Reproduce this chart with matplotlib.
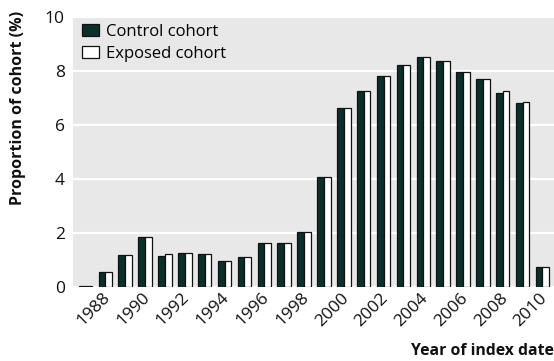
import matplotlib
matplotlib.use("Agg")
import matplotlib.pyplot as plt
import matplotlib.transforms as mtransforms
import numpy as np

years = list(range(1987, 2011))
control = [0.03, 0.55, 1.18, 1.86, 1.16, 1.26, 1.21, 0.96, 1.10, 1.64, 1.64, 2.05,
           4.08, 6.64, 7.27, 7.83, 8.22, 8.52, 8.37, 7.96, 7.70, 7.20, 6.80, 0.75]
exposed = [0.03, 0.55, 1.18, 1.86, 1.21, 1.26, 1.21, 0.96, 1.10, 1.64, 1.64, 2.05,
           4.08, 6.62, 7.27, 7.83, 8.22, 8.52, 8.37, 7.96, 7.70, 7.25, 6.84, 0.75]
tick_years = list(range(1988, 2011, 2))
yticks = [0, 2, 4, 6, 8, 10]

plt.rcParams['font.family'] = ['Open Sans', 'DejaVu Sans']

W, H = 554, 361
fig = plt.figure(figsize=(W / 100, H / 100), dpi=100)
ax = fig.add_axes([73 / W, (H - 287) / H, 1 - 73 / W, (287 - 17) / H])
ax.set_facecolor('#e8e8e8')
for s in ax.spines.values():
    s.set_visible(False)

x = np.array(years, dtype=float)
bw = 0.34
ax.bar(x - bw / 2, control, width=bw, color='#0b302c', edgecolor='#111111', linewidth=0.9,
       label='Control cohort', zorder=3)
ax.bar(x + bw / 2, exposed, width=bw, color='white', edgecolor='#111111', linewidth=0.9,
       label='Exposed cohort', zorder=3)

ax.set_xlim(1986.37, 2010.58)
ax.set_ylim(0, 10)
ax.set_yticks(yticks)
ax.yaxis.grid(True, color='white', linewidth=1.6, zorder=1)
ax.set_axisbelow(True)
ax.tick_params(axis='both', length=0, labelsize=12.5, colors='#111111')
ax.tick_params(axis='y', pad=6)
ax.tick_params(axis='x', pad=2)
ax.set_xticks(tick_years)
ax.set_xticklabels([str(t) for t in tick_years], rotation=45, ha='right')
offset = mtransforms.ScaledTranslation(8 / 100, 0, fig.dpi_scale_trans)
for lab in ax.get_xticklabels():
    lab.set_transform(lab.get_transform() + offset)

leg = ax.legend(loc='upper left', bbox_to_anchor=(9 / (W - 73), 1 - 7 / 270), frameon=False,
                fontsize=12, handlelength=1.0, handleheight=0.7, handletextpad=0.45,
                labelspacing=0.35, borderaxespad=0, borderpad=0)

fig.text(18 / W, 1 - 108 / H, 'Proportion of cohort (%)', rotation=90, ha='center', va='center',
         fontsize=11.5, fontweight='bold', color='#111111')
fig.text(1.0, 1 - 351 / H, 'Year of index date', ha='right', va='center',
         fontsize=11.3, fontweight='bold', color='#111111')

fig.savefig('out.png', dpi=100)
